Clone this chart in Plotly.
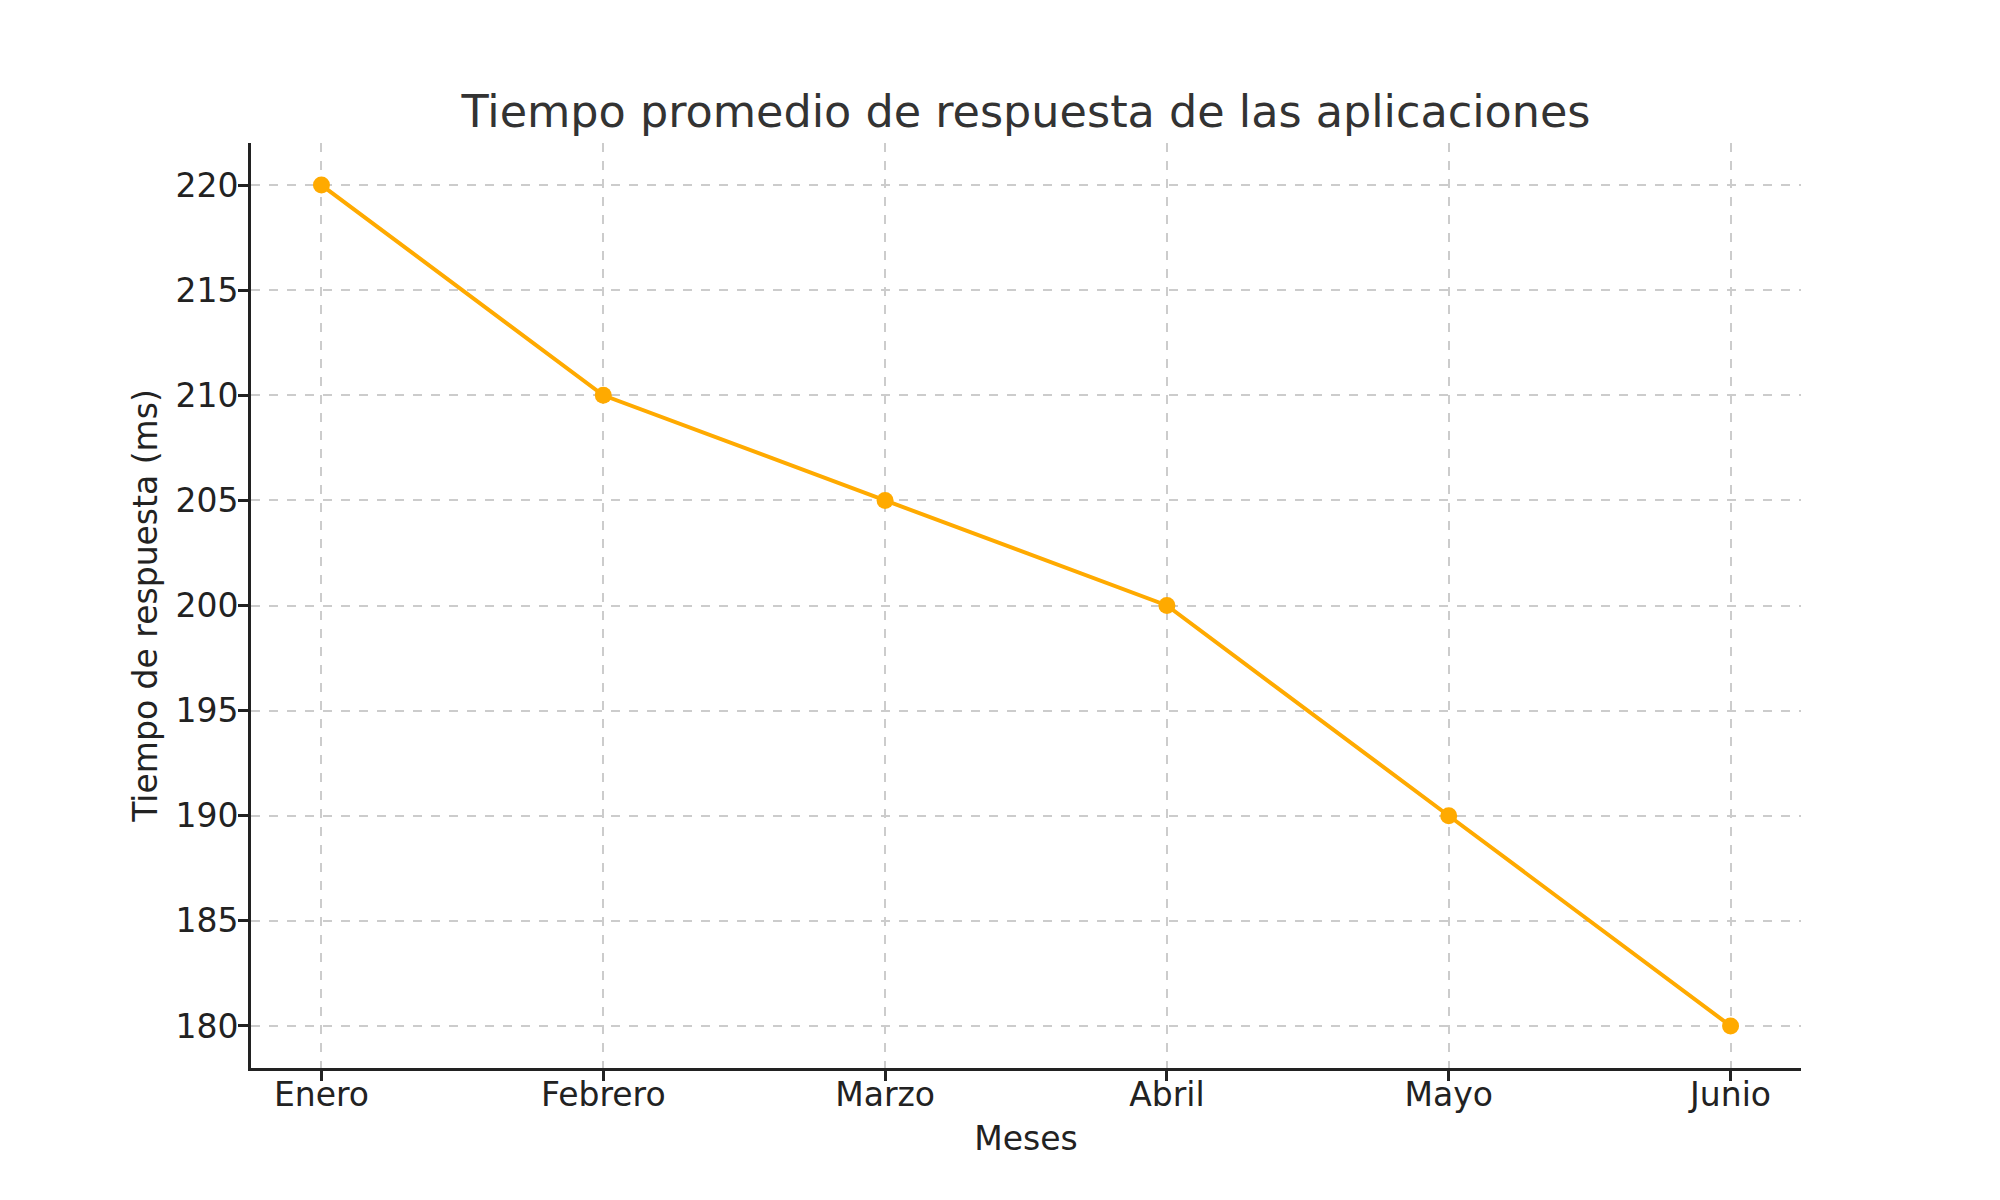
import plotly.graph_objects as go

# Datos
meses = ["Enero", "Febrero", "Marzo", "Abril", "Mayo", "Junio"]
tiempo_ms = [220, 210, 205, 200, 190, 180]
y_ticks = [180, 185, 190, 195, 200, 205, 210, 215, 220]

FONT = "DejaVu Sans"

fig = go.Figure()
fig.add_trace(go.Scatter(
    x=list(range(len(meses))), y=tiempo_ms,
    mode="lines+markers",
    line=dict(color="#FFAA00", width=4),
    marker=dict(color="#FFAA00", size=17),
    showlegend=False,
))

# the page body adds 8px, margins are set with that in mind
fig.update_layout(
    width=2000, height=1200,
    margin=dict(l=243, r=207, t=135, b=140),
    paper_bgcolor="white", plot_bgcolor="white",
    font=dict(family=FONT, size=33, color="#222222"),
    title=dict(text="Tiempo promedio de respuesta de las aplicaciones",
               x=1018 / 2000, xanchor="center",
               y=1 - 103 / 1200, yanchor="middle",
               font=dict(size=44.5, color="#333333")),
)

fig.update_xaxes(
    range=[-0.25, 5.25],
    tickmode="array", tickvals=list(range(len(meses))), ticktext=meses,
    showline=True, linecolor="#222222", linewidth=3,
    ticks="outside", ticklen=10, tickwidth=3, tickcolor="#222222",
    ticklabelstandoff=-15,
    showgrid=True, gridcolor="#cccccc", gridwidth=1.5, griddash="dash",
    zeroline=False,
    title=dict(text="Meses", standoff=15, font=dict(size=33)),
)
fig.update_yaxes(
    range=[178, 222],
    tickmode="array", tickvals=y_ticks,
    showline=True, linecolor="#222222", linewidth=3,
    ticks="outside", ticklen=10, tickwidth=3, tickcolor="#222222",
    ticklabelstandoff=-7,
    showgrid=True, gridcolor="#cccccc", gridwidth=1.5, griddash="dash",
    zeroline=False,
    title=dict(text="Tiempo de respuesta (ms)", standoff=8, font=dict(size=33)),
)

fig.write_html("out.html")
